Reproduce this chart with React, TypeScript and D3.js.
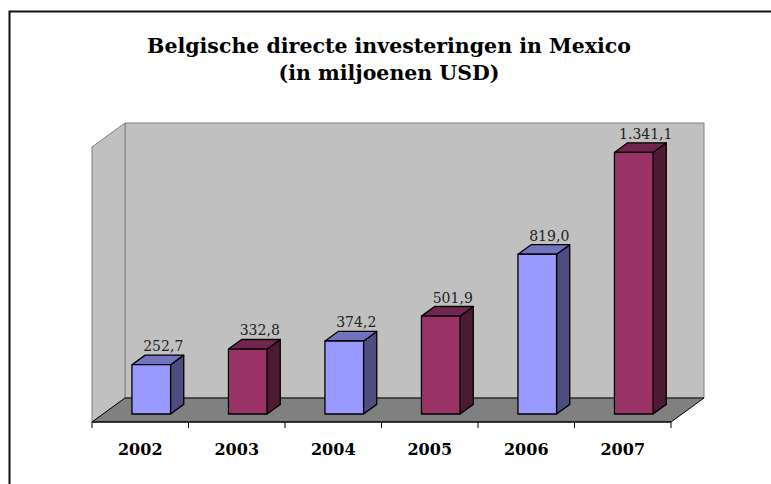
import React from "react";
import * as d3 from "d3";

const years = ["2002", "2003", "2004", "2005", "2006", "2007"];
const values = [252.7, 332.8, 374.2, 501.9, 819.0, 1341.1];
const frontColors = ["#9999FF", "#993366", "#9999FF", "#993366", "#9999FF", "#993366"];
const sideColors = ["#4D4D80", "#4D1A33", "#4D4D80", "#4D1A33", "#4D4D80", "#4D1A33"];
const topColors = ["#7373BF", "#73264D", "#7373BF", "#73264D", "#7373BF", "#73264D"];
const titleLines = ["Belgische directe investeringen in Mexico", "(in miljoenen USD)"];
const axisMax = 1410;

const W = 771;
const H = 484;
// plot geometry (front plane)
const X0 = 92;
const X1 = 671;
const FLOOR_Y = 422;
const TOP_Y = 147;
const DX = 33;
const DY = 24;
const BAR_D0 = 1 / 3;
const BAR_DEPTH = 0.4;

const nl = d3.formatLocale({ decimal: ",", thousands: ".", grouping: [3], currency: ["", ""] });
const fmt = nl.format(",.1f");

export default function App() {
  const x = d3.scaleBand<string>().domain(years).range([X0, X1]).paddingInner(0).paddingOuter(0);
  const h = d3.scaleLinear().domain([0, axisMax]).range([0, FLOOR_Y - TOP_Y]);
  const barW = x.bandwidth() * 0.4;
  const pts = (a: number[][]) => a.map((p) => p.join(",")).join(" ");

  const sx = DX * BAR_D0;
  const sy = DY * BAR_D0;
  const bdx = DX * BAR_DEPTH;
  const bdy = DY * BAR_DEPTH;

  return (
    <svg width={W} height={H} style={{ position: "absolute", left: 0, top: 0, background: "#fff" }}>
      {/* frame */}
      <path d={`M9.5,${H} L9.5,11.5 L${W},11.5`} fill="none" stroke="#111" strokeWidth={2} />
      {/* title */}
      {titleLines.map((t, i) => (
        <text
          key={i}
          x={389}
          y={53 + i * 27}
          textAnchor="middle"
          fontFamily="'DejaVu Serif', serif"
          fontWeight="bold"
          fontSize={20.5}
          fill="#000"
        >
          {t}
        </text>
      ))}
      {/* walls */}
      <polygon
        points={pts([[X0 + DX, TOP_Y - DY], [X1 + DX, TOP_Y - DY], [X1 + DX, FLOOR_Y - DY], [X0 + DX, FLOOR_Y - DY]])}
        fill="#C0C0C0"
        stroke="#808080"
        strokeWidth={1}
      />
      <polygon
        points={pts([[X0, TOP_Y], [X0 + DX, TOP_Y - DY], [X0 + DX, FLOOR_Y - DY], [X0, FLOOR_Y]])}
        fill="#C0C0C0"
        stroke="#808080"
        strokeWidth={1}
      />
      <polygon
        points={pts([[X0, FLOOR_Y], [X0 + DX, FLOOR_Y - DY], [X1 + DX, FLOOR_Y - DY], [X1, FLOOR_Y]])}
        fill="#808080"
        stroke="#000"
        strokeWidth={1}
      />
      {/* axis line and ticks */}
      <line x1={X0} x2={X1} y1={FLOOR_Y} y2={FLOOR_Y} stroke="#000" strokeWidth={1.2} />
      {[...years.map((y) => x(y) as number), X1].map((tx, i) => (
        <line key={i} x1={tx} x2={tx} y1={FLOOR_Y} y2={FLOOR_Y + 6} stroke="#000" strokeWidth={1} />
      ))}
      {/* bars */}
      {years.map((yr, i) => {
        const cx = (x(yr) as number) + x.bandwidth() / 2 + sx;
        const bx0 = cx - barW / 2;
        const bx1 = cx + barW / 2;
        const by0 = FLOOR_Y - sy;
        const by1 = by0 - h(values[i]);
        return (
          <g key={yr} stroke="#000" strokeWidth={1.3} strokeLinejoin="round">
            <polygon
              points={pts([[bx1, by1], [bx1 + bdx, by1 - bdy], [bx1 + bdx, by0 - bdy], [bx1, by0]])}
              fill={sideColors[i]}
            />
            <polygon
              points={pts([[bx0, by1], [bx0 + bdx, by1 - bdy], [bx1 + bdx, by1 - bdy], [bx1, by1]])}
              fill={topColors[i]}
            />
            <rect x={bx0} y={by1} width={barW} height={by0 - by1} fill={frontColors[i]} />
            <text
              x={cx + 12}
              y={by1 - bdy - 4}
              textAnchor="middle"
              fontFamily="'DejaVu Serif', serif"
              fontSize={14}
              fill="#222"
              stroke="none"
            >
              {fmt(values[i])}
            </text>
          </g>
        );
      })}
      {/* category labels */}
      {years.map((yr) => (
        <text
          key={yr}
          x={(x(yr) as number) + x.bandwidth() / 2}
          y={455}
          textAnchor="middle"
          fontFamily="'DejaVu Serif', serif"
          fontWeight="bold"
          fontSize={16}
          fill="#000"
        >
          {yr}
        </text>
      ))}
    </svg>
  );
}
